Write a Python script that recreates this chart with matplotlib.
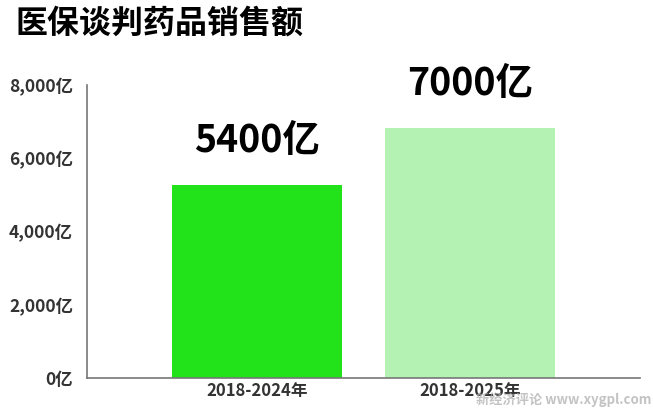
import matplotlib
matplotlib.use("Agg")
import matplotlib.pyplot as plt

plt.rcParams['font.family'] = ['Noto Sans CJK SC', 'DejaVu Sans']

# data
periods = ['2018-2024年', '2018-2025年']
sales = [5270, 6830]          # bar heights (亿)
labels = ['5400亿', '7000亿']  # printed labels
colors = ['#22e31a', '#b3f2b3']
yticks = [0, 2000, 4000, 6000, 8000]
ytick_labels = ['0亿', '2,000亿', '4,000亿', '6,000亿', '8,000亿']

fig = plt.figure(figsize=(6.53, 4.08), dpi=100)
ax = fig.add_axes([0.1332, 0.0735, 0.8468, 0.7182])

x = range(len(periods))
bars = ax.bar(x, sales, width=0.8, color=colors)

for b, lab in zip(bars, labels):
    ax.annotate(lab, (b.get_x() + b.get_width() / 2, b.get_height()),
                xytext=(0, 18), textcoords='offset points',
                ha='center', va='bottom', fontsize=27, fontweight='bold',
                color='black')

ax.set_xlim(-0.8, 1.8)
ax.set_ylim(0, 8000)
ax.set_xticks(list(x))
ax.set_xticklabels(periods, fontsize=12, fontweight='bold', color='#333333')
ax.set_yticks(yticks)
ax.set_yticklabels(ytick_labels, fontsize=12.5, fontweight='bold', color='#333333')
ax.tick_params(length=0)
ax.tick_params(axis='y', pad=10)
ax.tick_params(axis='x', pad=3)

for s in ['top', 'right']:
    ax.spines[s].set_visible(False)
for s in ['left', 'bottom']:
    ax.spines[s].set_color('#777777')
    ax.spines[s].set_linewidth(1.2)

fig.text(0.023, 0.943, '医保谈判药品销售额', fontsize=23, fontweight='bold',
         color='black', va='center', ha='left')

# faint site watermark in the lower right corner
fig.text(0.997, 0.02, '新经济评论 www.xygpl.com', fontsize=9.5, fontweight='bold',
         color='#aaaaaa', alpha=0.7, va='center', ha='right')

fig.savefig('out.png', dpi=100)
